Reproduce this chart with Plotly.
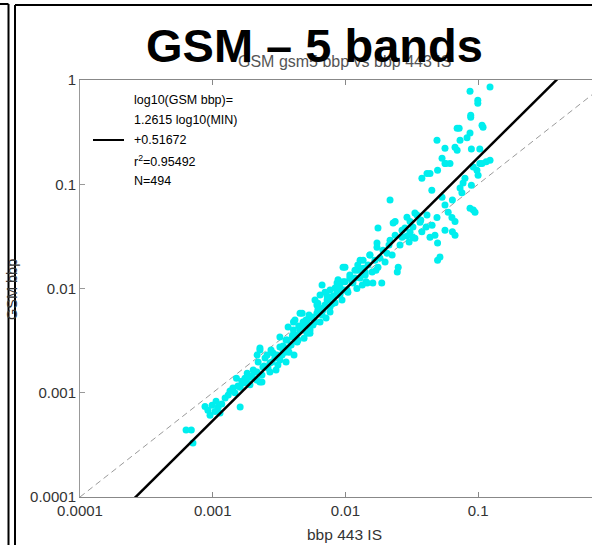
import math
import plotly.graph_objects as go

# In-situ bbp(443) vs GSM-derived bbp, matched pairs
IS_BBP = [
    6.3e-4, 6.9e-4, 7.1e-4, 9.2e-4, 9.9e-4, 1.04e-3, 1.10e-3, 1.17e-3, 9.55e-4, 1.135e-3,
    1.06e-3, 8.75e-4, 1.24e-3, 1.61e-3, 1.35e-3, 1.47e-3, 1.42e-3, 1.66e-3, 1.82e-3, 1.75e-3,
    1.55e-3, 1.31e-3, 1.98e-3, 2.08e-3, 2.27e-3, 2.16e-3, 2.27e-3, 2.61e-3, 2.80e-3, 2.94e-3,
    3.10e-3, 3.33e-3, 3.51e-3, 2.70e-3, 3.21e-3, 3.57e-3, 3.00e-3, 2.44e-3, 2.35e-3, 1.91e-3,
    2.20e-3, 2.02e-3, 2.48e-3, 2.75e-3, 3.05e-3, 3.39e-3, 3.57e-3, 3.76e-3, 3.99e-3, 4.17e-3,
    4.33e-3, 4.55e-3, 4.72e-3, 4.88e-3, 5.14e-3, 5.41e-3, 5.60e-3, 5.90e-3, 6.20e-3, 6.44e-3,
    6.67e-3, 7.02e-3, 7.40e-3, 7.66e-3, 8.07e-3, 8.36e-3, 8.80e-3, 9.10e-3, 9.43e-3, 9.93e-3,
    1.045e-2, 1.08e-2, 3.90e-3, 4.25e-3, 4.45e-3, 4.80e-3, 5.05e-3, 5.32e-3, 5.70e-3, 6.10e-3,
    6.78e-3, 7.28e-3, 7.93e-3, 8.65e-3, 9.76e-3, 3.70e-3, 4.10e-3, 7.15e-3, 1.18e-2, 1.24e-2,
    1.29e-2, 1.34e-2, 1.41e-2, 1.48e-2, 1.53e-2, 1.59e-2, 1.61e-2, 1.67e-2, 1.73e-2, 1.76e-2,
    1.82e-2, 1.88e-2, 1.92e-2, 1.99e-2, 2.06e-2, 2.13e-2, 2.17e-2, 2.17e-2, 2.25e-2, 2.29e-2,
    2.37e-2, 2.46e-2, 2.50e-2, 2.58e-2, 2.67e-2, 2.81e-2, 2.91e-2, 3.02e-2, 3.07e-2, 3.23e-2,
    3.34e-2, 3.46e-2, 3.65e-2, 9.60e-3, 9.10e-3, 8.36e-3, 1.12e-2, 1.22e-2, 1.43e-2, 1.36e-2,
    1.70e-2, 5.35e-2, 6.95e-2, 5.63e-2, 6.14e-2, 3.77e-2, 4.12e-2, 4.95e-2, 4.48e-2, 7.96e-2,
    9.80e-2, 0.107, 0.123, 0.115, 9.20e-2, 0.100, 8.90e-2, 7.70e-2, 7.31e-2, 7.55e-2,
    6.40e-2, 5.63e-2, 5.35e-2, 5.95e-2, 6.35e-2, 6.70e-2, 8.69e-2, 9.48e-2, 4.90e-2, 4.12e-2,
    3.70e-2, 3.34e-2, 3.07e-2, 4.50e-2, 5.63e-2, 6.40e-2, 4.95e-2, 5.16e-2, 4.95e-2, 2.37e-2,
    2.67e-2, 2.91e-2, 3.23e-2, 3.77e-2, 4.06e-2, 4.34e-2, 6.70e-2, 4.73e-2, 0.123, 8.69e-2,
    9.95e-2, 9.95e-2, 8.80e-2, 0.109, 6.95e-2, 7.20e-2, 8.69e-2, 8.25e-2, 7.31e-2, 4.90e-2,
    6.70e-2, 5.63e-2, 8.90e-2, 0.103, 5.70e-2, 4.34e-2, 0.103, 0.107, 8.80e-2, 9.20e-2,
    1.69e-3, 1.91e-3, 2.16e-3, 2.35e-3, 2.27e-3, 2.57e-3, 2.85e-3, 2.70e-3, 3.21e-3, 3.64e-3,
    3.39e-3, 3.99e-3, 4.06e-3, 4.55e-3, 4.72e-3, 5.14e-3, 5.60e-3, 5.41e-3, 6.10e-3, 6.20e-3,
    6.78e-3, 6.44e-3, 7.28e-3, 7.66e-3, 7.66e-3, 8.07e-3, 8.65e-3, 9.10e-3, 9.60e-3, 9.93e-3,
    1.03e-2, 1.08e-2, 1.14e-2, 1.18e-2, 1.24e-2, 1.29e-2, 1.36e-2, 1.41e-2, 1.46e-2, 1.53e-2,
    1.73e-2, 1.76e-2, 5.14e-3, 4.40e-3, 3.70e-3, 3.21e-3, 4.06e-3, 4.80e-3, 2.39e-3, 2.16e-3,
    1.61e-3, 6.67e-3, 7.02e-3, 5.90e-3, 1.51e-3, 1.82e-3,
]
GSM_BBP = [
    4.4e-4, 4.4e-4, 3.3e-4, 6.8e-4, 7.6e-4, 6.6e-4, 7.3e-4, 7.8e-4, 6.1e-4, 6.4e-4,
    8.3e-4, 7.4e-4, 8.9e-4, 7.3e-4, 1.04e-3, 1.00e-3, 1.11e-3, 1.29e-3, 1.24e-3, 1.38e-3,
    1.16e-3, 9.5e-4, 1.44e-3, 1.58e-3, 2.69e-3, 2.30e-3, 1.27e-3, 1.73e-3, 1.97e-3, 2.15e-3,
    1.85e-3, 2.30e-3, 2.45e-3, 1.58e-3, 2.06e-3, 1.97e-3, 1.65e-3, 1.81e-3, 1.48e-3, 1.19e-3,
    1.97e-3, 1.65e-3, 2.15e-3, 2.57e-3, 2.30e-3, 2.81e-3, 3.20e-3, 2.45e-3, 3.57e-3, 4.98e-3,
    3.06e-3, 3.99e-3, 5.80e-3, 3.33e-3, 4.46e-3, 3.73e-3, 5.20e-3, 4.77e-3, 6.21e-3, 8.65e-3,
    5.56e-3, 6.93e-3, 7.74e-3, 5.94e-3, 8.46e-3, 1.01e-2, 1.21e-2, 1.03e-2, 7.74e-3, 1.16e-2,
    9.20e-3, 1.35e-2, 2.87e-3, 3.57e-3, 4.36e-3, 3.99e-3, 4.98e-3, 5.56e-3, 4.46e-3, 6.93e-3,
    6.21e-3, 8.46e-3, 7.10e-3, 9.20e-3, 9.66e-3, 2.69e-3, 2.30e-3, 5.20e-3, 1.26e-2, 1.50e-2,
    1.87e-2, 1.08e-2, 1.35e-2, 1.68e-2, 2.09e-2, 1.44e-2, 1.13e-2, 1.87e-2, 2.73e-2, 3.80e-2,
    1.96e-2, 1.13e-2, 2.33e-2, 1.80e-2, 2.18e-2, 2.61e-2, 2.91e-2, 7.05e-2, 2.09e-2, 4.24e-2,
    3.25e-2, 1.44e-2, 1.60e-2, 2.61e-2, 3.11e-2, 3.80e-2, 4.82e-2, 2.79e-2, 3.47e-2, 3.88e-2,
    3.04e-2, 5.06e-2, 4.33e-2, 1.60e-2, 8.65e-3, 7.30e-3, 1.16e-2, 1.00e-2, 1.16e-2, 1.56e-2,
    1.50e-2, 0.178, 0.212, 0.158, 0.158, 0.114, 0.127, 0.136, 8.77e-2, 0.114,
    0.136, 0.158, 0.170, 0.164, 0.146, 0.122, 9.80e-2, 0.103, 9.20e-2, 8.30e-2,
    7.05e-2, 6.31e-2, 7.50e-2, 5.40e-2, 4.80e-2, 4.40e-2, 5.90e-2, 5.40e-2, 4.80e-2, 5.06e-2,
    4.53e-2, 5.30e-2, 4.40e-2, 4.05e-2, 3.63e-2, 3.50e-2, 2.73e-2, 2.00e-2, 1.87e-2, 4.40e-2,
    3.63e-2, 3.18e-2, 3.11e-2, 3.50e-2, 3.88e-2, 3.11e-2, 3.25e-2, 3.25e-2, 0.857, 0.780,
    0.640, 0.600, 0.440, 0.353, 0.344, 0.344, 0.310, 0.280, 0.265, 0.265,
    0.227, 0.222, 0.218, 0.218, 0.158, 0.127, 0.158, 0.369, 0.460, 5.65e-2,
    1.24e-3, 1.41e-3, 1.58e-3, 1.27e-3, 2.57e-3, 2.30e-3, 2.40e-3, 1.93e-3, 2.75e-3, 3.20e-3,
    2.57e-3, 3.43e-3, 4.77e-3, 5.80e-3, 4.27e-3, 4.98e-3, 5.30e-3, 3.99e-3, 5.80e-3, 7.20e-3,
    6.50e-3, 4.77e-3, 7.74e-3, 9.66e-3, 6.65e-3, 8.25e-3, 1.13e-2, 9.00e-3, 1.16e-2, 1.60e-2,
    9.66e-3, 1.26e-2, 1.13e-2, 1.50e-2, 1.68e-2, 1.26e-2, 1.87e-2, 1.44e-2, 1.13e-2, 2.09e-2,
    2.49e-2, 1.60e-2, 3.73e-3, 3.20e-3, 4.27e-3, 3.43e-3, 3.99e-3, 4.77e-3, 1.77e-3, 1.32e-3,
    1.13e-3, 1.08e-2, 9.20e-3, 7.74e-3, 1.38e-3, 1.54e-3,
]

# Log-log regression: log10(GSM bbp) = SLOPE * log10(IS bbp) + INTERCEPT
SLOPE = 1.2615
INTERCEPT = 0.51672
R2 = 0.95492
N_PAIRS = 494

TICK_VALS = [1e-4, 1e-3, 1e-2, 1e-1, 1]
TICK_TEXT = ["0.0001", "0.001", "0.01", "0.1", "1"]

W, H = 592, 545
ML, MR, MT, MB = 80, 0, 80, 48
PW, PH = W - ML - MR, H - MT - MB
DECADE_X = 132.7  # pixels per decade on the x axis
X_RANGE = [-4, -4 + PW / DECADE_X]
Y_RANGE = [-4, 0]


def px(xp):
    return (xp - ML) / PW


def py(yp):
    return (H - MB - yp) / PH


FONT = "Liberation Sans, Arial, sans-serif"

fit_x = [1e-4, 1.0]
fit_y = [10 ** (SLOPE * math.log10(v) + INTERCEPT) for v in fit_x]

fig = go.Figure()
fig.add_trace(go.Scatter(
    x=[1e-4, 1.0], y=[1e-4, 1.0], mode="lines",
    line=dict(color="#9a9a9a", width=1, dash="6px,4px"), hoverinfo="skip",
))
fig.add_trace(go.Scatter(
    x=IS_BBP, y=GSM_BBP, mode="markers",
    marker=dict(color="#00eeee", size=7, line=dict(width=0)),
))
fig.add_trace(go.Scatter(
    x=fit_x, y=fit_y, mode="lines",
    line=dict(color="black", width=2.5), hoverinfo="skip",
))

axis_common = dict(
    type="log", showgrid=False, zeroline=False,
    tickvals=TICK_VALS, ticktext=TICK_TEXT,
    ticks="inside", ticklen=5, tickwidth=1,
    showline=True, linewidth=1,
    tickfont=dict(family=FONT, size=15, color="#333"),
)
fig.update_xaxes(range=X_RANGE, mirror="ticks", linecolor="#888", tickcolor="#888", **axis_common)
fig.update_yaxes(range=Y_RANGE, linecolor="#999", tickcolor="#999", **axis_common)

ann = []
ann.append(dict(text="GSM gsm5 bbp vs bbp 443 IS", x=px(344.5), y=py(61),
                font=dict(family=FONT, size=16, color="#555")))
ann.append(dict(text="<b>GSM – 5 bands</b>", x=px(314), y=py(45),
                font=dict(family=FONT, size=47, color="black")))
ann.append(dict(text="bbp 443 IS", x=px(344), y=py(534),
                font=dict(family=FONT, size=15.5, color="#333")))
ann.append(dict(text="GSM bbp", x=px(12), y=py(290), textangle=-90,
                font=dict(family=FONT, size=14.5, color="#333")))
legend_lines = [
    "log10(GSM bbp)=",
    f"{SLOPE} log10(MIN)",
    f"+{INTERCEPT}",
    f"r<sup>2</sup>={R2}",
    f"N={N_PAIRS}",
]
for i, t in enumerate(legend_lines):
    ann.append(dict(text=t, x=px(132), y=py(100 + 20.2 * i), xanchor="left",
                    font=dict(family=FONT, size=12.5, color="black")))
for a in ann:
    a.setdefault("xanchor", "center")
    a.update(xref="paper", yref="paper", yanchor="middle", showarrow=False)

shapes = [
    # legend line sample
    dict(type="line", x0=px(93), x1=px(124), y0=py(140), y1=py(140),
         line=dict(color="black", width=2)),
    # surrounding frame lines
    dict(type="line", x0=px(0), x1=px(8.5), y0=py(4), y1=py(4), line=dict(color="black", width=2)),
    dict(type="line", x0=px(8.5), x1=px(8.5), y0=py(4), y1=py(545), line=dict(color="black", width=2)),
    dict(type="line", x0=px(15), x1=px(592), y0=py(5), y1=py(5), line=dict(color="black", width=2)),
    dict(type="line", x0=px(15), x1=px(15), y0=py(5), y1=py(545), line=dict(color="black", width=2)),
]
for s in shapes:
    s.update(xref="paper", yref="paper")

fig.update_layout(
    width=W, height=H, margin=dict(l=ML, r=MR, t=MT, b=MB),
    paper_bgcolor="white", plot_bgcolor="white", showlegend=False,
    annotations=ann, shapes=shapes,
)

fig.write_html("out.html")
